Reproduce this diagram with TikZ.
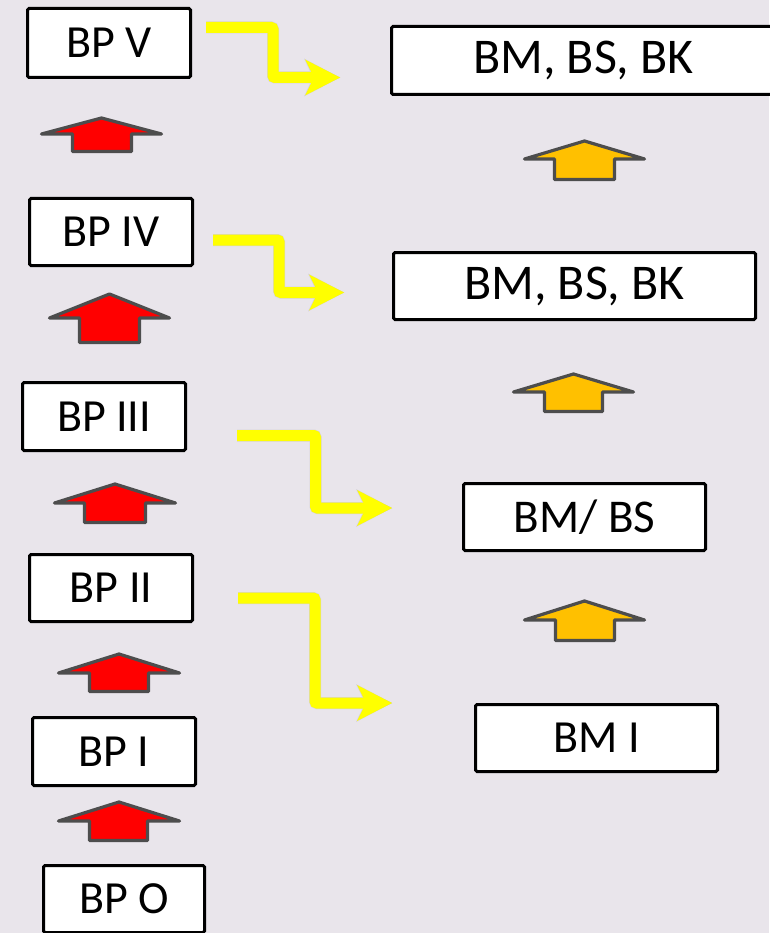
\documentclass[tikz,border=0pt]{standalone}
\usepackage{fontspec}
\setmainfont{Carlito}
\usetikzlibrary{arrows.meta}
\definecolor{bg}{HTML}{E9E5EB}
\definecolor{arrowline}{HTML}{4D4D4D}
\definecolor{redfill}{HTML}{FF0000}
\definecolor{orangefill}{HTML}{FFC000}
\definecolor{yellowline}{HTML}{FFFF00}
\definecolor{shadowlight}{HTML}{D6D2D9}
\definecolor{shadowdark}{HTML}{C0BCC4}
% block arrow pointing up: fill, left x, right x, tip y, head base y, shaft left x, shaft right x, bottom y
\newcommand{\uparr}[8]{%
  \draw[blockarrow, fill=#1] ({#2+1.5},{#5}) -- ({(#2+#3)/2},{#4+2}) -- ({#3-1.5},{#5})
    -- ({#7-1.5},{#5}) -- ({#7-1.5},{#8-1.5}) -- ({#6+1.5},{#8-1.5}) -- ({#6+1.5},{#5}) -- cycle;}
\begin{document}
\begin{tikzpicture}[x=1pt,y=-1pt,
  box/.style={draw=black, line width=3pt, fill=white, rounded corners=1.5pt,
    inner sep=0pt, minimum width=163pt, minimum height=67pt,
    font=\fontsize{46}{50}\selectfont},
  bigbox/.style={box, font=\fontsize{50}{54}\selectfont},
  blockarrow/.style={draw=arrowline, line width=3.2pt, line join=round},
  conn/.style={line width=11pt, draw=yellowline, rounded corners=2pt,
    -{Stealth[length=35pt,width=36pt,inset=9pt,line width=0pt]}},
  connshadowa/.style={conn, draw=shadowlight, line width=12pt,
    -{Stealth[length=36pt,width=38pt,inset=9pt,line width=0pt]}},
  connshadowb/.style={conn, draw=shadowdark, line width=8pt,
    -{Stealth[length=33pt,width=32pt,inset=9pt,line width=0pt]}}
]
\fill[bg] (0,0) rectangle (769,933);
\useasboundingbox (0,0) rectangle (769,933);

% red block arrows (left column)
\uparr{redfill}{40}{163}{116}{134}{71}{133}{153}
\uparr{redfill}{48}{171}{292}{318}{78}{141}{344}
\uparr{redfill}{53}{177}{482}{503}{83}{147}{524}
\uparr{redfill}{57}{181}{652}{673}{88}{150}{693}
\uparr{redfill}{57}{181}{800}{821}{88}{149}{842}
% orange block arrows (right column)
\uparr{orangefill}{523}{646}{139}{159}{553}{616}{181}
\uparr{orangefill}{512}{635}{372}{392}{543}{604}{413}
\uparr{orangefill}{523}{646}{599}{620}{554}{616}{642}

% boxes
\node[box, minimum height=69pt] (BPV) at (109,43) {BP V};
\node[box] (BPIV) at (111,232) {BP IV};
\node[box, minimum height=68pt] (BPIII) at (104,416.5) {BP III};
\node[box] (BPII) at (111,588) {BP II};
\node[box, minimum height=68pt] (BPI) at (114,751.5) {BP I};
\node[box, minimum width=161pt] (BPO) at (124,899) {BP O};

\node[bigbox, minimum width=384pt, minimum height=68pt] (BMtop) at (583.5,60.5) {BM, BS, BK};
\node[bigbox, minimum width=362pt] (BMmid) at (574.5,286) {BM, BS, BK};
\node[box, minimum width=242pt, font=\fontsize{47}{51}\selectfont] (BMBS) at (584.5,517) {BM/ BS};
\node[box, minimum width=242pt] (BMI) at (596.5,738) {BM I};

% connector end points
\coordinate (c1s) at (206,27.5);   \coordinate (c1e) at (340,77.5);
\coordinate (c2s) at (213,240);    \coordinate (c2e) at (344,292.5);
\coordinate (c3s) at (237,435.5);  \coordinate (c3e) at (392,508);
\coordinate (c4s) at (238,598);    \coordinate (c4e) at (392,703);

% shadows
\begin{scope}[shift={(3,3.5)}]
  \draw[connshadowa] (c1s) -- ++(67,0) |- (c1e);
  \draw[connshadowa] (c2s) -- ++(66,0) |- (c2e);
  \draw[connshadowa] (c3s) -- ++(78.5,0) |- (c3e);
  \draw[connshadowa] (c4s) -- ++(77,0) |- (c4e);
\end{scope}
\begin{scope}[shift={(3,3.5)}]
  \draw[connshadowb] (c1s) -- ++(67,0) |- (c1e);
  \draw[connshadowb] (c2s) -- ++(66,0) |- (c2e);
  \draw[connshadowb] (c3s) -- ++(78.5,0) |- (c3e);
  \draw[connshadowb] (c4s) -- ++(77,0) |- (c4e);
\end{scope}
% yellow connectors
\draw[conn] (c1s) -- ++(67,0) |- (c1e);
\draw[conn] (c2s) -- ++(66,0) |- (c2e);
\draw[conn] (c3s) -- ++(78.5,0) |- (c3e);
\draw[conn] (c4s) -- ++(77,0) |- (c4e);
\end{tikzpicture}
\end{document}
